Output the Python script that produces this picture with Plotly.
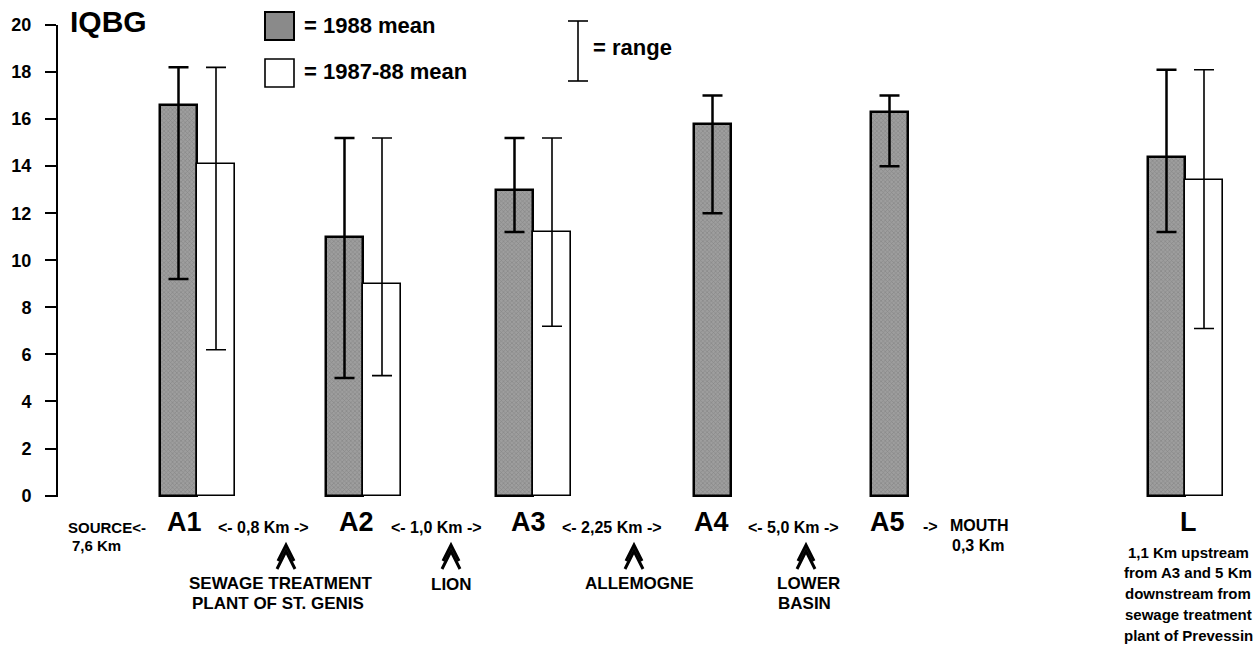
import plotly.graph_objects as go

# ---- data ----
stations = ["A1", "A2", "A3", "A4", "A5", "L"]
mean_1988 = [16.6, 11.0, 13.0, 15.8, 16.3, 14.4]
min_1988 = [9.2, 5.0, 11.2, 12.0, 14.0, 11.2]
max_1988 = [18.2, 15.2, 15.2, 17.0, 17.0, 18.1]
mean_8788 = [14.1, 9.0, 11.2, None, None, 13.4]
min_8788 = [6.2, 5.1, 7.2, None, None, 7.1]
max_8788 = [18.2, 15.2, 15.2, None, None, 18.1]
y_ticks = list(range(0, 21, 2))

# layout positions of the station groups along the (pixel-like) x axis
station_pos = [197, 363, 533, 731, 908, 1185]

W, H = 1259, 646
ML, MR, MT, MB = 58, 0, 25, 149
PLOT_H = H - MT - MB
BOTTOM = H - MB
FONT = "Liberation Sans, Arial, Helvetica, sans-serif"
DARK = "#8a8a8a"


def py(pix):
    return (BOTTOM - pix) / PLOT_H


fig = go.Figure()

fig.add_trace(go.Bar(
    x=station_pos, y=mean_1988, offset=-37, width=37,
    marker=dict(color=DARK, line=dict(color="black", width=2.5),
                pattern=dict(shape="x", fgcolor="#6a6a6a", bgcolor="#9e9e9e",
                             size=3, solidity=0.35)),
    error_y=dict(type="data", symmetric=False,
                 array=[mx - m for mx, m in zip(max_1988, mean_1988)],
                 arrayminus=[m - mn for mn, m in zip(min_1988, mean_1988)],
                 color="black", thickness=2.5, width=10),
    name="1988 mean", showlegend=False,
))

wx, wy, wp, wm = [], [], [], []
for p, m, mn, mx in zip(station_pos, mean_8788, min_8788, max_8788):
    if m is None:
        continue
    wx.append(p)
    wy.append(m)
    wp.append(mx - m)
    wm.append(m - mn)

fig.add_trace(go.Bar(
    x=wx, y=wy, offset=0, width=38,
    marker=dict(color="white", line=dict(color="black", width=1.6)),
    error_y=dict(type="data", symmetric=False, array=wp, arrayminus=wm,
                 color="black", thickness=1.6, width=10),
    name="1987-88 mean", showlegend=False,
))

shapes = []
annotations = []


def ann(text, x, y, size, xanchor="center", bold=True):
    annotations.append(dict(
        text=text, x=x, y=py(y), xref="x", yref="paper",
        xanchor=xanchor, yanchor="middle", showarrow=False,
        font=dict(family=FONT, size=size, color="black",
                  weight="bold" if bold else "normal"),
    ))


def caret(x):
    # double up-chevron marker used under the km labels
    for (top, bot, half) in [(545, 561, 8), (551, 569, 9)]:
        shapes.append(dict(
            type="path", xref="x", yref="paper",
            path=f"M {x - half},{py(bot)} L {x},{py(top)} L {x + half},{py(bot)}",
            line=dict(color="black", width=3),
        ))


# title
ann("IQBG", 68, 22, 30, xanchor="left")

# legend boxes
shapes.append(dict(type="rect", xref="x", yref="paper", x0=265, x1=294,
                   y0=py(40), y1=py(12), fillcolor=DARK,
                   line=dict(color="black", width=2)))
shapes.append(dict(type="rect", xref="x", yref="paper", x0=265, x1=294,
                   y0=py(87), y1=py(59), fillcolor="white",
                   line=dict(color="black", width=1.6)))
ann("= 1988 mean", 302, 25, 22, xanchor="left")
ann("= 1987-88 mean", 302, 72, 22, xanchor="left")

# range legend
shapes.append(dict(type="line", xref="x", yref="paper", x0=578, x1=578,
                   y0=py(81), y1=py(21), line=dict(color="black", width=1.6)))
for yy in (21, 81):
    shapes.append(dict(type="line", xref="x", yref="paper", x0=568, x1=588,
                       y0=py(yy), y1=py(yy), line=dict(color="black", width=1.6)))
ann("= range", 591, 48, 22, xanchor="left")

# station labels
label_x = [184, 356, 528, 711, 887, 1188]
for s, lx in zip(stations, label_x):
    ann(s, lx, 522, 27)

ann("SOURCE<-", 66, 527, 15, xanchor="left")
ann("7,6 Km", 70, 545, 15, xanchor="left")
ann("<- 0,8 Km ->", 263, 527, 16)
ann("<- 1,0 Km ->", 436, 527, 16)
ann("<- 2,25 Km ->", 612, 527, 16)
ann("<- 5,0 Km ->", 793, 527, 16)
ann("->", 930, 526, 16)
ann("MOUTH", 948, 525, 16, xanchor="left")
ann("0,3 Km", 950, 545, 16, xanchor="left")

for cx in (286, 451, 634, 806):
    caret(cx)

ann("SEWAGE TREATMENT", 281, 583, 17)
ann("PLANT OF ST. GENIS", 278, 603, 17)
ann("LION", 451, 584, 17)
ann("ALLEMOGNE", 639, 583, 17)
ann("LOWER", 808, 583, 17)
ann("BASIN", 804, 603, 17)

for i, line in enumerate(["1,1 Km upstream", "from A3 and 5 Km",
                          "downstream from", "sewage treatment",
                          "plant of Prevessin"]):
    ann(line, 1188, 552 + i * 20.8, 15)

fig.update_layout(
    width=W, height=H,
    margin=dict(l=ML, r=MR, t=MT, b=MB, pad=0),
    paper_bgcolor="white", plot_bgcolor="white",
    bargap=0,
    xaxis=dict(range=[ML, W], visible=False, fixedrange=True),
    yaxis=dict(range=[-0.06, 20], showline=True, linecolor="black", linewidth=2,
               ticks="outside", ticklen=11, tickwidth=2, tickcolor="black",
               tickvals=y_ticks, showgrid=False, zeroline=False,
               ticklabelstandoff=10,
               tickfont=dict(family=FONT, size=18, color="black", weight="bold")),
    shapes=shapes, annotations=annotations,
)

fig.write_html(
    "out.html",
    config={"displayModeBar": False},
    post_script="document.body.style.margin='0';document.body.style.overflow='hidden';",
)
